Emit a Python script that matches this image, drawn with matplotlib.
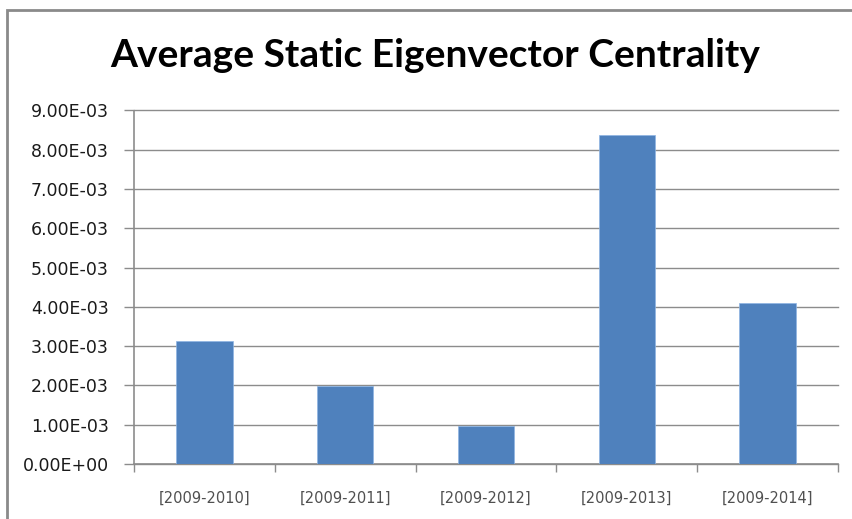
import matplotlib
matplotlib.use("Agg")
import matplotlib.pyplot as plt
from matplotlib.patches import Rectangle
from matplotlib.ticker import FuncFormatter, FixedLocator

categories = ["[2009-2010]", "[2009-2011]", "[2009-2012]", "[2009-2013]", "[2009-2014]"]
values = [3.14e-3, 1.99e-3, 0.98e-3, 8.37e-3, 4.10e-3]
yticks = [i * 1e-3 for i in range(10)]
title = "Average Static Eigenvector Centrality"

W, H = 853, 519
fig = plt.figure(figsize=(W / 100, H / 100), dpi=100)
fig.patch.set_facecolor("white")

# chart border
fig.patches.append(Rectangle((7 / W, 0 - 0.1), 1.2, (H - 10) / H + 0.1, transform=fig.transFigure,
                             fill=False, edgecolor="#8a8a8a", linewidth=2.0, zorder=0))

L, R, T, B = 134, 838, 110.5, 464
ax = fig.add_axes([L / W, 1 - B / H, (R - L) / W, (B - T) / H])

x = list(range(len(categories)))
ax.bar(x, values, width=0.4, color="#4F81BD", edgecolor="#8EB4E3", linewidth=0.5, zorder=3)

ax.set_xlim(-0.5, len(categories) - 0.5)
ax.set_ylim(0, 9e-3)
ax.yaxis.set_major_locator(FixedLocator(yticks))
ax.yaxis.set_major_formatter(FuncFormatter(lambda v, p: f"{v:.2E}"))
ax.grid(axis="y", color="#8c8c8c", linewidth=1.0, zorder=0)
for gl in ax.get_ygridlines():
    gl.set_clip_on(False)
ax.set_axisbelow(True)

ax.set_xticks(x)
ax.set_xticklabels(categories)
ax.set_xticks([i - 0.5 for i in range(len(categories) + 1)], minor=True)
ax.tick_params(axis="x", which="major", length=0, pad=19, labelsize=10.5, labelcolor="#505050")
ax.tick_params(axis="x", which="minor", length=6, width=1.0, color="#8c8c8c", direction="out")
ax.tick_params(axis="y", which="major", length=7, width=1.0, color="#8c8c8c", pad=11,
               labelsize=12.5, labelcolor="#1a1a1a")

for s in ["top", "right"]:
    ax.spines[s].set_visible(False)
for s in ["left", "bottom"]:
    ax.spines[s].set_color("#8c8c8c")
    ax.spines[s].set_linewidth(1.2)

# title sized to target width
t = fig.text(435 / W, 1 - 67 / H, title, ha="center", va="baseline",
             fontsize=28, fontweight="bold", family=["Lato", "DejaVu Sans"], color="#000000")
fig.canvas.draw()
w = t.get_window_extent(fig.canvas.get_renderer()).width
t.set_fontsize(28 * 650 / w)

fig.savefig("out.png", dpi=100)
